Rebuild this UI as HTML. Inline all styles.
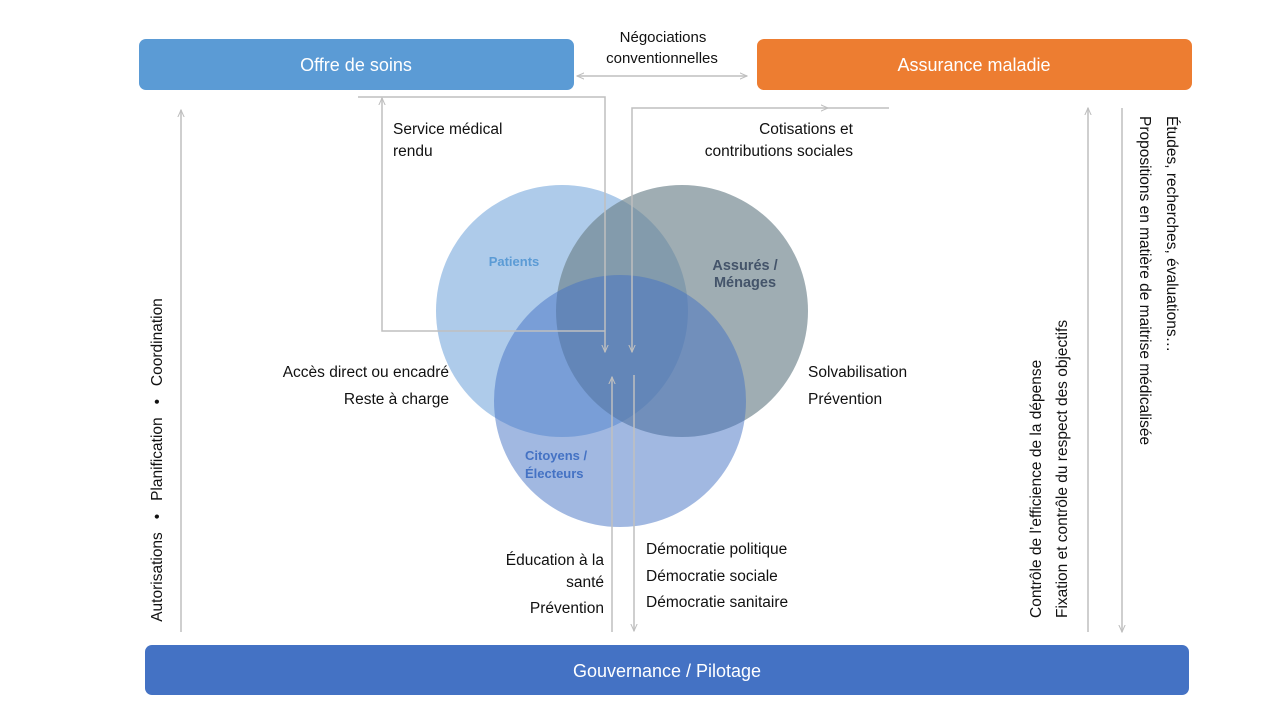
<!DOCTYPE html>
<html><head><meta charset="utf-8"><style>
html,body{margin:0;padding:0;background:#fff;width:1280px;height:720px;overflow:hidden}
svg{display:block;font-family:"Liberation Sans","DejaVu Sans",sans-serif}
</style></head><body>
<svg width="1280" height="720" viewBox="0 0 1280 720" xmlns="http://www.w3.org/2000/svg">
<defs>
<marker id="a" viewBox="0 0 10 10" refX="9" refY="5" markerWidth="8" markerHeight="8" orient="auto-start-reverse" markerUnits="userSpaceOnUse">
<path d="M0,1 L9,5 L0,9" fill="none" stroke="#bfbfbf" stroke-width="1.3"/></marker>
</defs>
<rect x="139" y="39" width="435" height="51" rx="7" fill="#5b9bd5"/>
<text x="356" y="71" font-size="18" fill="#fff" text-anchor="middle">Offre de soins</text>
<rect x="757" y="39" width="435" height="51" rx="7" fill="#ed7d31"/>
<text x="974" y="71" font-size="18" fill="#fff" text-anchor="middle">Assurance maladie</text>
<rect x="145" y="645" width="1044" height="50" rx="7" fill="#4472c4"/>
<text x="667" y="677" font-size="18" fill="#fff" text-anchor="middle">Gouvernance / Pilotage</text>
<text x="663" y="42" font-size="15" text-anchor="middle" fill="#111">Négociations</text>
<text x="662" y="63" font-size="15" text-anchor="middle" fill="#111">conventionnelles</text>
<line x1="577" y1="76" x2="747" y2="76" stroke="#bfbfbf" stroke-width="1.5" marker-start="url(#a)" marker-end="url(#a)"/>
<circle cx="562" cy="311" r="126" fill="#aecbea"/>
<circle cx="682" cy="311" r="126" fill="rgb(110,130,140)" fill-opacity="0.66"/>
<circle cx="620" cy="401" r="126" fill="rgb(68,114,196)" fill-opacity="0.5"/>
<text x="514" y="266" font-size="13" font-weight="bold" fill="#5b9bd5" text-anchor="middle">Patients</text>
<text x="745" y="270" font-size="14.5" font-weight="bold" fill="#44546a" text-anchor="middle">Assurés /</text>
<text x="745" y="287" font-size="14.5" font-weight="bold" fill="#44546a" text-anchor="middle">Ménages</text>
<text x="525" y="460" font-size="13" font-weight="bold" fill="#4472c4">Citoyens /</text>
<text x="525" y="478" font-size="13" font-weight="bold" fill="#4472c4">Électeurs</text>
<g stroke="#bfbfbf" stroke-width="1.5" fill="none">
<polyline points="358,97 605,97 605,352" marker-end="url(#a)"/>
<polyline points="605,331 382,331 382,98" marker-end="url(#a)"/>
<polyline points="632,352 632,108 828,108" marker-start="url(#a)" marker-end="url(#a)"/>
<line x1="828" y1="108" x2="889" y2="108"/>
<line x1="612" y1="632" x2="612" y2="377" marker-end="url(#a)"/>
<line x1="634" y1="375" x2="634" y2="631" marker-end="url(#a)"/>
<line x1="181" y1="632" x2="181" y2="110" marker-end="url(#a)"/>
<line x1="1088" y1="632" x2="1088" y2="108" marker-end="url(#a)"/>
<line x1="1122" y1="108" x2="1122" y2="632" marker-end="url(#a)"/>
</g>
<g font-size="15.5" fill="#111">
<text x="393" y="134">Service médical</text>
<text x="393" y="156">rendu</text>
<text x="853" y="134" text-anchor="end">Cotisations et</text>
<text x="853" y="156" text-anchor="end">contributions sociales</text>
<text x="449" y="377" text-anchor="end">Accès direct ou encadré</text>
<text x="449" y="404" text-anchor="end">Reste à charge</text>
<text x="808" y="377">Solvabilisation</text>
<text x="808" y="404">Prévention</text>
<text x="604" y="565" text-anchor="end">Éducation à la</text>
<text x="604" y="587" text-anchor="end">santé</text>
<text x="604" y="613" text-anchor="end">Prévention</text>
<text x="646" y="554">Démocratie politique</text>
<text x="646" y="581">Démocratie sociale</text>
<text x="646" y="607">Démocratie sanitaire</text>
<text transform="translate(162,460) rotate(-90)" text-anchor="middle" style="white-space:pre">Autorisations   •   Planification   •   Coordination</text>
<text transform="translate(1041,618) rotate(-90)">Contrôle de l’efficience de la dépense</text>
<text transform="translate(1067,618) rotate(-90)">Fixation et contrôle du respect des objectifs</text>
<text transform="translate(1167,116) rotate(90)">Études, recherches, évaluations…</text>
<text transform="translate(1140,116) rotate(90)">Propositions en matière de maitrise médicalisée</text>
</g>
</svg>
</body></html>
